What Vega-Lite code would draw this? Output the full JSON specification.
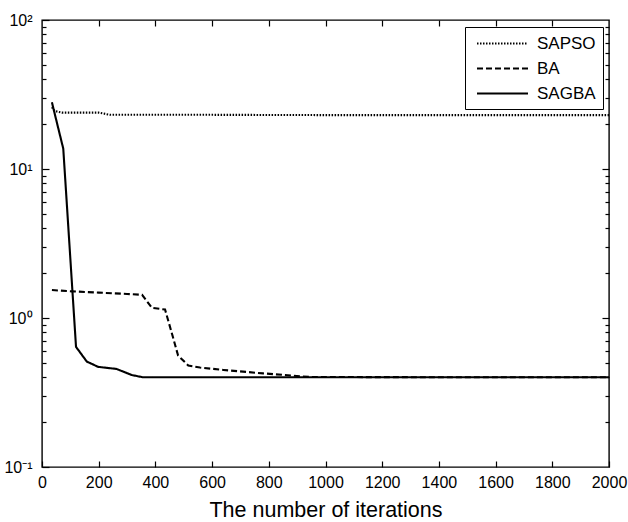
{
  "$schema": "https://vega.github.io/schema/vega-lite/v6.json",
  "autosize": "none",
  "width": 567,
  "height": 447,
  "padding": {"left": 42, "top": 20, "right": 19, "bottom": 55},
  "background": "white",
  "config": {
    "view": {"stroke": "black", "strokeWidth": 1.4},
    "font": "Liberation Sans",
    "axis": {"labelFont": "Liberation Sans", "titleFont": "Liberation Sans", "labelColor": "black", "titleColor": "black", "tickColor": "black", "domainColor": "black", "grid": false, "tickWidth": 1.2}
  },
  "data": {
    "values": [
      {"series": "SAPSO", "iter": 35, "value": 26.0},
      {"series": "SAPSO", "iter": 45, "value": 24.5},
      {"series": "SAPSO", "iter": 70, "value": 23.9},
      {"series": "SAPSO", "iter": 200, "value": 23.9},
      {"series": "SAPSO", "iter": 240, "value": 23.1},
      {"series": "SAPSO", "iter": 600, "value": 23.1},
      {"series": "SAPSO", "iter": 1000, "value": 23.0},
      {"series": "SAPSO", "iter": 1500, "value": 23.0},
      {"series": "SAPSO", "iter": 2000, "value": 23.0},
      {"series": "BA", "iter": 35, "value": 1.54},
      {"series": "BA", "iter": 106, "value": 1.51},
      {"series": "BA", "iter": 200, "value": 1.48},
      {"series": "BA", "iter": 300, "value": 1.45},
      {"series": "BA", "iter": 353, "value": 1.43},
      {"series": "BA", "iter": 388, "value": 1.17},
      {"series": "BA", "iter": 434, "value": 1.14},
      {"series": "BA", "iter": 458, "value": 0.79},
      {"series": "BA", "iter": 480, "value": 0.56},
      {"series": "BA", "iter": 516, "value": 0.48},
      {"series": "BA", "iter": 557, "value": 0.465},
      {"series": "BA", "iter": 640, "value": 0.448},
      {"series": "BA", "iter": 780, "value": 0.425},
      {"series": "BA", "iter": 945, "value": 0.402},
      {"series": "BA", "iter": 1500, "value": 0.40},
      {"series": "BA", "iter": 2000, "value": 0.40},
      {"series": "SAGBA", "iter": 35, "value": 28.0},
      {"series": "SAGBA", "iter": 75, "value": 13.7},
      {"series": "SAGBA", "iter": 120, "value": 0.64},
      {"series": "SAGBA", "iter": 158, "value": 0.51},
      {"series": "SAGBA", "iter": 198, "value": 0.47},
      {"series": "SAGBA", "iter": 263, "value": 0.455},
      {"series": "SAGBA", "iter": 317, "value": 0.414},
      {"series": "SAGBA", "iter": 357, "value": 0.40},
      {"series": "SAGBA", "iter": 1000, "value": 0.40},
      {"series": "SAGBA", "iter": 2000, "value": 0.40}
    ]
  },
  "resolve": {"scale": {"x": "shared", "y": "shared"}, "axis": {"x": "independent", "y": "independent"}},
  "layer": [
    {
      "mark": {"type": "line", "color": "black", "strokeWidth": 2.1},
      "encoding": {
        "x": {"field": "iter", "type": "quantitative", "scale": {"domain": [0, 2000], "nice": false, "zero": false},
          "axis": {"orient": "bottom", "values": [0, 200, 400, 600, 800, 1000, 1200, 1400, 1600, 1800, 2000], "format": "d", "offset": -6, "tickSize": 6, "labelPadding": 7, "labelFontSize": 16, "labelFlush": false, "domain": false, "title": "The number of iterations", "titleFontSize": 21.5, "titleFontWeight": "normal", "titlePadding": 9}},
        "y": {"field": "value", "type": "quantitative", "scale": {"type": "log", "domain": [0.1, 100], "nice": false},
          "axis": {"orient": "left", "values": [0.1, 1, 10, 100], "offset": -7, "tickSize": 7, "labelPadding": 10, "labelFontSize": 16, "labelFlush": false, "domain": false, "title": null,
            "labelExpr": "datum.value > 50 ? '10²' : datum.value > 5 ? '10¹' : datum.value > 0.5 ? '10⁰' : '10⁻¹'"}},
        "strokeDash": {"field": "series", "type": "nominal",
          "scale": {"domain": ["SAPSO", "BA", "SAGBA"], "range": [[1.5, 1.5], [6, 3], [1, 0]]},
          "legend": {"title": null, "orient": "none", "legendX": 423, "legendY": 7, "symbolType": "M-3,0H3", "symbolSize": 289, "symbolOffset": 21, "symbolStrokeWidth": 2, "symbolStrokeColor": "black", "labelFontSize": 17, "labelFont": "Liberation Sans", "labelColor": "black", "labelOffset": 25, "strokeColor": "black", "fillColor": "white", "padding": 7, "rowPadding": 7}}
      }
    },
    {
      "mark": {"type": "line", "strokeOpacity": 0},
      "encoding": {
        "x": {"field": "iter", "type": "quantitative",
          "axis": {"orient": "top", "values": [200, 400, 600, 800, 1000, 1200, 1400, 1600, 1800], "offset": -6, "tickSize": 6, "labels": false, "domain": false, "title": null}},
        "y": {"field": "value", "type": "quantitative",
          "axis": {"orient": "left", "values": [0.2, 0.3, 0.4, 0.5, 0.6, 0.7, 0.8, 0.9, 2, 3, 4, 5, 6, 7, 8, 9, 20, 30, 40, 50, 60, 70, 80, 90], "offset": -4, "tickSize": 4, "labels": false, "domain": false, "title": null}},
        "detail": {"field": "series"}
      }
    },
    {
      "mark": {"type": "line", "strokeOpacity": 0},
      "encoding": {
        "x": {"field": "iter", "type": "quantitative", "axis": null},
        "y": {"field": "value", "type": "quantitative",
          "axis": {"orient": "right", "values": [1, 10], "offset": -7, "tickSize": 7, "labels": false, "domain": false, "title": null}},
        "detail": {"field": "series"}
      }
    },
    {
      "mark": {"type": "line", "strokeOpacity": 0},
      "encoding": {
        "x": {"field": "iter", "type": "quantitative", "axis": null},
        "y": {"field": "value", "type": "quantitative",
          "axis": {"orient": "right", "values": [0.2, 0.3, 0.4, 0.5, 0.6, 0.7, 0.8, 0.9, 2, 3, 4, 5, 6, 7, 8, 9, 20, 30, 40, 50, 60, 70, 80, 90], "offset": -4, "tickSize": 4, "labels": false, "domain": false, "title": null}},
        "detail": {"field": "series"}
      }
    }
  ]
}
